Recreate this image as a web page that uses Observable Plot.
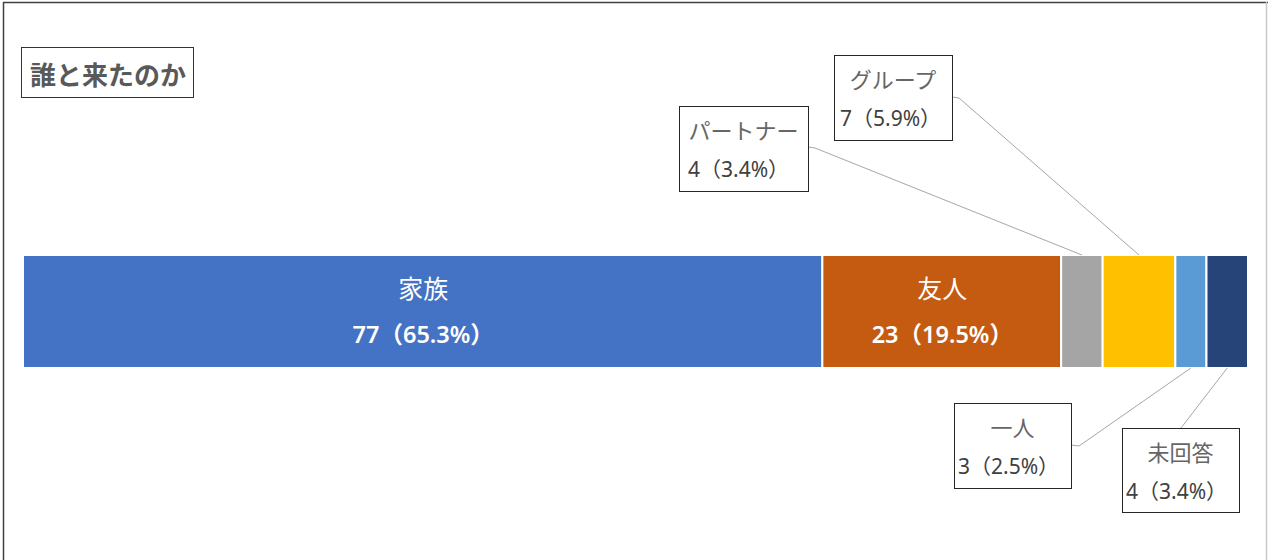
<!DOCTYPE html>
<html>
<head>
<meta charset="utf-8">
<script src="https://cdn.jsdelivr.net/npm/d3@7"></script>
<script src="https://cdn.jsdelivr.net/npm/@observablehq/plot@0.6"></script>
<style>
  html, body { margin: 0; padding: 0; background: #fff; }
  #chart { position: relative; width: 1268px; height: 560px; }
  svg { font-family: "Noto Sans", "Noto Sans CJK JP", sans-serif; }
</style>
</head>
<body>
<div id="chart"></div>
<script>
// ---- data ----
const title = "誰と来たのか";
const categories = ["家族", "友人", "パートナー", "グループ", "一人", "未回答"];
const counts = [77, 23, 4, 7, 3, 4];
const colors = ["#4472C4", "#C55A11", "#A5A5A5", "#FFC000", "#5B9BD5", "#264478"];
const insideLabels = ["家族", "友人"];           // labelled inside the bar
const calloutAbove = ["パートナー", "グループ"];  // callouts above the bar
const calloutBelow = ["一人", "未回答"];          // callouts below the bar

const total = d3.sum(counts);
const rows = categories.map((c, i) => ({
  category: c,
  value: counts[i],
  pct: (counts[i] / total * 100).toFixed(1)
}));
const valueText = d => `${d.value}（${d.pct}%）`;

// ---- layout (pixels) for callout boxes ----
const W = 1268, H = 560;
const calloutLayout = {
  "パートナー": {left: 679, top: 106, w: 129, h: 85, vx: 9, side: "right", ly: 147, elbow: 815},
  "グループ":   {left: 834, top: 55,  w: 118, h: 85, vx: 6, side: "right", ly: 97,  elbow: 959},
  "一人":       {left: 954, top: 403, w: 117, h: 85, vx: 4, side: "right", ly: 445, elbow: 1079},
  "未回答":     {left: 1122, top: 428, w: 117, h: 84, vx: 4, side: "top", lx: 1181}
};

const chart = Plot.plot({
  width: W,
  height: H,
  marginLeft: 23,
  marginRight: 20,
  marginTop: 255,
  marginBottom: 192,
  x: {domain: [0, total], axis: null},
  y: {domain: ["all"], axis: null, padding: 0},
  color: {domain: categories, range: colors},
  marks: [
    Plot.barX(rows, Plot.stackX({
      x: "value", y: () => "all", fill: "category", order: null,
      stroke: "white", strokeWidth: 2
    })),
    Plot.text(rows, Plot.stackX({
      x: "value", y: () => "all", order: null,
      text: d => insideLabels.includes(d.category) ? d.category : "",
      fill: "white", fontSize: 25, dy: -22
    })),
    Plot.text(rows, Plot.stackX({
      x: "value", y: () => "all", order: null,
      text: d => insideLabels.includes(d.category) ? valueText(d) : "",
      fill: "white", fontSize: 23.5, fontWeight: 600, dy: 23
    }))
  ]
});

document.getElementById("chart").appendChild(chart);

// ---- callouts, title, frame using the chart's scales ----
const sx = chart.scale("x");
const sy = chart.scale("y");
const barTop = sy.apply("all");
const barBottom = barTop + sy.bandwidth;
let cum = 0;
const mids = {};
rows.forEach(d => { mids[d.category] = sx.apply(cum + d.value / 2); cum += d.value; });

const svg = d3.select(chart);
const g = svg.append("g");

// outer frame
g.append("line").attr("x1", 3.5).attr("x2", 3.5).attr("y1", 2).attr("y2", H).attr("stroke", "#404040").attr("stroke-width", 1.5);
g.append("line").attr("x1", 3).attr("x2", W).attr("y1", 2.5).attr("y2", 2.5).attr("stroke", "#404040").attr("stroke-width", 1.5);
g.append("line").attr("x1", W - 1.5).attr("x2", W - 1.5).attr("y1", 2).attr("y2", H).attr("stroke", "#c8c8c8").attr("stroke-width", 1.5);

// title box
g.append("rect").attr("x", 21.5).attr("y", 47.5).attr("width", 172).attr("height", 50)
  .attr("fill", "white").attr("stroke", "#333").attr("stroke-width", 1);
g.append("text").attr("x", 108).attr("y", 73).attr("text-anchor", "middle").attr("dominant-baseline", "central")
  .attr("font-size", 26).attr("font-weight", 700).attr("fill", "#595959")
  .attr("font-family", "'Noto Sans CJK JP', sans-serif").text(title);

// callouts
rows.filter(d => calloutLayout[d.category]).forEach(d => {
  const L = calloutLayout[d.category];
  const above = calloutAbove.includes(d.category);
  const ax = mids[d.category];
  const ay = above ? barTop : barBottom;
  let pts;
  if (L.side === "right") {
    pts = [[L.left + L.w, L.ly], [L.elbow, L.ly + 1], [ax, ay]];
  } else {
    pts = [[L.lx, L.top], [ax, ay]];
  }
  g.append("path").attr("d", d3.line()(pts)).attr("fill", "none")
    .attr("stroke", "#a6a6a6").attr("stroke-width", 1);
  g.append("rect").attr("x", L.left + 0.5).attr("y", L.top + 0.5).attr("width", L.w).attr("height", L.h)
    .attr("fill", "white").attr("stroke", "#262626").attr("stroke-width", 1);
  g.append("text").attr("x", L.left + L.w / 2).attr("y", L.top + 23)
    .attr("text-anchor", "middle").attr("dominant-baseline", "central")
    .attr("font-size", 22).attr("fill", "#666666")
    .attr("font-family", "'Noto Sans CJK JP', sans-serif").text(d.category);
  g.append("text").attr("x", L.left + L.vx).attr("y", L.top + 63)
    .attr("text-anchor", "start").attr("dominant-baseline", "central")
    .attr("font-size", 21).attr("fill", "#404040").text(valueText(d));
});
</script>
</body>
</html>
